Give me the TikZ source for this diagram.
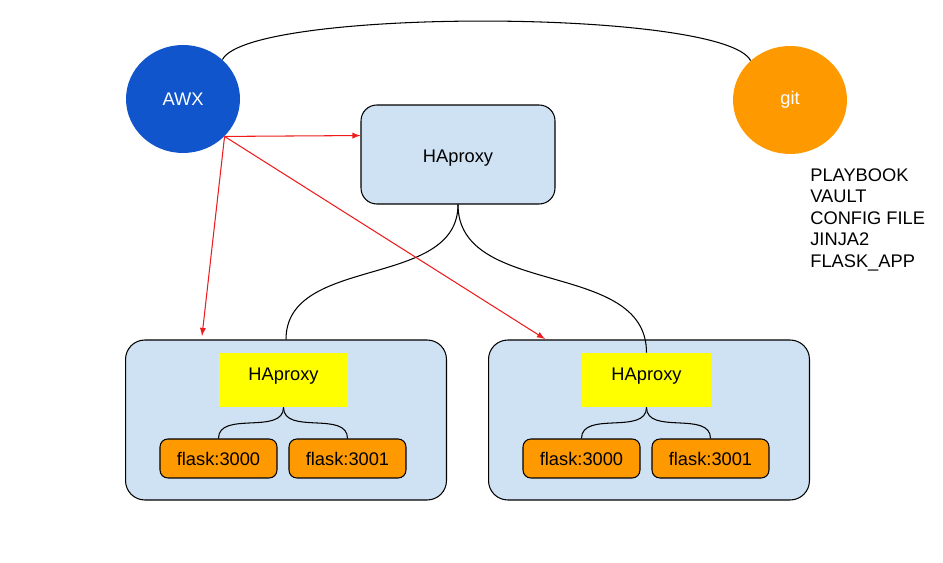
\documentclass[tikz,border=0pt]{standalone}
\usepackage{fontspec}
\setmainfont{Liberation Sans}
\usetikzlibrary{arrows,shapes}

\definecolor{awxblue}{HTML}{1155CC}
\definecolor{gitorange}{HTML}{FF9900}
\definecolor{hostblue}{HTML}{CFE2F3}
\definecolor{lbyellow}{HTML}{FFFF00}
\definecolor{callred}{HTML}{EE1C1C}

\begin{document}
\begin{tikzpicture}[>=latex, x=0.02cm, y=-0.02cm,
  font=\fontsize{10.4}{12.3}\selectfont,
  every node/.style={inner sep=0pt},
  tool/.style={ellipse, minimum width=2.28cm, minimum height=2.16cm, text=white},
  host/.style={rectangle, rounded corners=11pt, draw, line width=0.6pt, fill=hostblue, minimum width=6.42cm, minimum height=3.2cm},
  balancer/.style={rectangle, fill=lbyellow, minimum width=2.58cm, minimum height=1.08cm, text height=7.5pt, text depth=6.6pt},
  app/.style={rectangle, rounded corners=4.5pt, draw, line width=0.6pt, fill=gitorange, minimum width=2.34cm, minimum height=0.78cm},
  link/.style={line width=0.6pt},
  call/.style={->, callred, line width=0.6pt}]
  \useasboundingbox (0,0) rectangle (943,563);

  % Nodes
  \node[tool, fill=awxblue] (awx) at (183,99) {AWX};
  \node[tool, fill=gitorange] (git) at (790,100) {git};
  \node[rectangle, rounded corners=9pt, draw, line width=0.6pt, fill=hostblue, minimum width=3.88cm, minimum height=1.98cm, text height=9.5pt, text depth=0pt] (hap) at (458,154.5) {HAproxy};
  \node[anchor=north west, align=left] (files) at (810,168) {PLAYBOOK\\VAULT\\CONFIG FILE\\JINJA2\\FLASK\_APP};

  % left host
  \node[host] (lhost) at (286,420) {};
  \node[balancer] (lhap) at (283.5,380) {HAproxy};
  \node[app] (lflaskA) at (218.5,458.5) {flask:3000};
  \node[app] (lflaskB) at (347.5,458.5) {flask:3001};

  % right host
  \node[host] (rhost) at (649,420) {};
  \node[balancer] (rhap) at (646.5,380) {HAproxy};
  \node[app] (rflaskA) at (581.5,458.5) {flask:3000};
  \node[app] (rflaskB) at (710.5,458.5) {flask:3001};

  % arrow ends
  \coordinate (ltarget) at (202,336);
  \coordinate (rtarget) at (545,339);

  % Edges
  \draw[link] (awx.45) .. controls +(27,-52) and +(-27,-52) .. (git.135);
  \draw[link] (hap.south) .. controls +(0,85) and +(0,-85) .. (lhost.north);
  \draw[link] (hap.south) .. controls +(0,94) and +(0,-94) .. (rhap.north);
  \draw[link] (lhap.south) .. controls +(0,28) and +(0,-28) .. (lflaskA.north);
  \draw[link] (lhap.south) .. controls +(0,28) and +(0,-28) .. (lflaskB.north);
  \draw[link] (rhap.south) .. controls +(0,28) and +(0,-28) .. (rflaskA.north);
  \draw[link] (rhap.south) .. controls +(0,28) and +(0,-28) .. (rflaskB.north);

  \draw[call] (awx.-42) -- (hap.169);
  \draw[call] (awx.-42) -- (ltarget);
  \draw[call] (awx.-42) -- (rtarget);
\end{tikzpicture}
\end{document}
